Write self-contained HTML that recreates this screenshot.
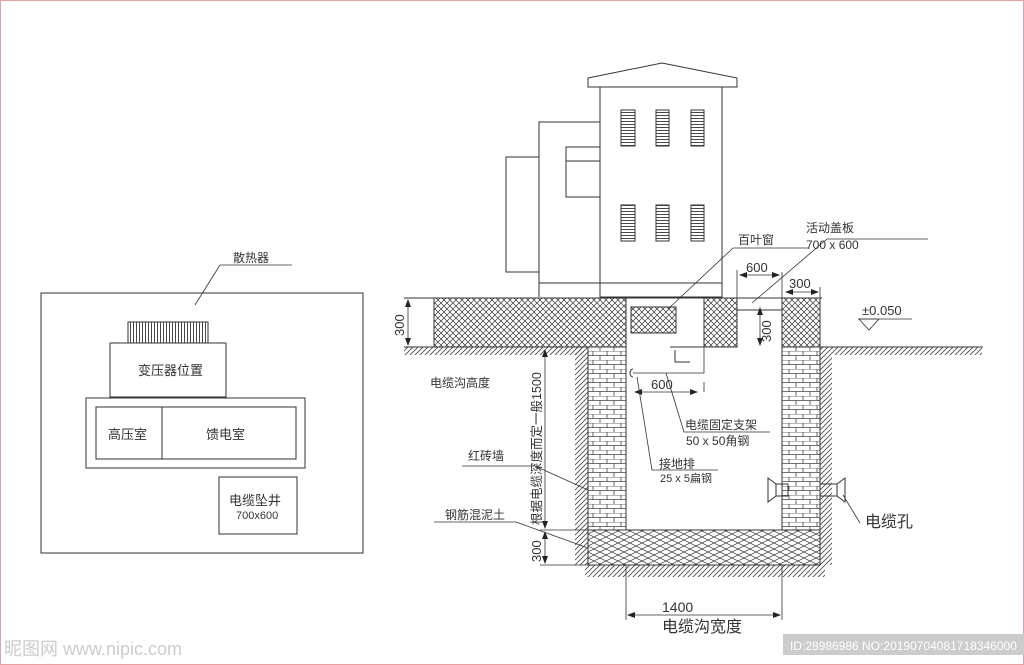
<!DOCTYPE html>
<html><head><meta charset="utf-8"><style>
html,body{margin:0;padding:0;background:#fff}
svg{display:block}
text{font-family:"Liberation Sans","Noto Sans CJK SC",sans-serif;fill:#333}
</style></head><body>
<svg width="1024" height="665" viewBox="0 0 1024 665" xmlns="http://www.w3.org/2000/svg">
<defs>
<pattern id="cross" width="6" height="6" patternUnits="userSpaceOnUse">
<path d="M0 0L6 6M6 0L0 6" stroke="#333" stroke-width="0.7"/>
</pattern>
<pattern id="cross2" width="12" height="6" patternUnits="userSpaceOnUse">
<path d="M0 0L12 6M12 0L0 6" stroke="#333" stroke-width="0.7"/>
</pattern>
<pattern id="brick" width="14" height="9" patternUnits="userSpaceOnUse">
<rect width="14" height="9" fill="#fff"/>
<path d="M0 0H14M0 4.5H14M5 0V4.5M12 4.5V9" stroke="#444" stroke-width="0.8"/>
</pattern>
<pattern id="hatch" width="5" height="5" patternUnits="userSpaceOnUse">
<path d="M0 5L5 0M-1 1L1 -1M4 6L6 4" stroke="#444" stroke-width="0.8"/>
</pattern>
<pattern id="louver" width="14" height="3" patternUnits="userSpaceOnUse">
<path d="M0 1.5H14" stroke="#333" stroke-width="0.9"/>
</pattern>
<pattern id="vlines" width="3" height="10" patternUnits="userSpaceOnUse">
<path d="M1.5 0V10" stroke="#333" stroke-width="0.9"/>
</pattern>
<marker id="ar" markerWidth="8" markerHeight="6" refX="7" refY="3" orient="auto-start-reverse" markerUnits="userSpaceOnUse">
<path d="M0 0L8 3L0 6Z" fill="#222"/>
</marker>
</defs>
<rect x="0.5" y="0.5" width="1023" height="664" fill="none" stroke="#e8a0a0"/>
<g fill="none" stroke="#333" stroke-width="1">
<rect x="41" y="293" width="322" height="260"/>
<rect x="128" y="322" width="80" height="21" fill="url(#vlines)"/>
<rect x="110" y="343" width="116" height="54"/>
<rect x="86" y="398" width="219" height="70"/>
<rect x="96" y="407" width="200" height="52"/>
<line x1="162" y1="407" x2="162" y2="459"/>
<rect x="219" y="477" width="78" height="57"/>
<line x1="220" y1="265" x2="292" y2="265" stroke-width="0.8"/>
<line x1="220" y1="265" x2="195" y2="305" stroke-width="0.8"/>
<path d="M588 78L662 63L737 78V87H588Z"/>
<rect x="600" y="87" width="122" height="210"/>
<path d="M600 122H539V297"/>
<rect x="566" y="147" width="34" height="50"/>
<line x1="566" y1="161" x2="600" y2="161"/>
<rect x="506" y="157" width="33" height="115"/>
<line x1="539" y1="283" x2="722" y2="283"/>
<g fill="url(#louver)">
<rect x="621" y="110" width="14" height="36"/><rect x="656" y="110" width="13" height="36"/><rect x="691" y="110" width="13" height="36"/>
<rect x="621" y="205" width="14" height="36"/><rect x="656" y="205" width="13" height="36"/><rect x="691" y="205" width="13" height="36"/>
</g>
<rect x="575" y="347" width="13" height="183" fill="url(#hatch)" stroke="none"/>
<rect x="820" y="347" width="12" height="183" fill="url(#hatch)" stroke="none"/>
<rect x="575" y="530" width="13" height="35" fill="url(#hatch)" stroke="none"/>
<rect x="820" y="530" width="12" height="35" fill="url(#hatch)" stroke="none"/>
<rect x="585" y="565" width="240" height="12" fill="url(#hatch)" stroke="none"/>
<rect x="404" y="347" width="180" height="8" fill="url(#hatch)" stroke="none"/>
<rect x="832" y="347" width="150" height="8" fill="url(#hatch)" stroke="none"/>
<line x1="404" y1="298" x2="822" y2="298"/>
<rect x="434" y="298" width="192" height="49" fill="url(#cross)"/>
<rect x="631" y="307" width="45" height="26" fill="url(#cross)"/>
<rect x="704" y="298" width="33" height="49" fill="url(#cross)"/>
<rect x="782" y="298" width="38" height="49" fill="url(#cross)"/>
<line x1="404" y1="347" x2="626" y2="347"/>
<line x1="820" y1="347" x2="983" y2="347"/>
<line x1="670" y1="347" x2="704" y2="347"/>
<line x1="737" y1="310" x2="782" y2="310"/>
<rect x="588" y="347" width="38" height="183" fill="url(#brick)"/>
<rect x="782" y="347" width="38" height="183" fill="url(#brick)"/>
<rect x="588" y="530" width="232" height="35" fill="url(#cross2)"/>
<line x1="588" y1="347" x2="588" y2="565"/>
<line x1="820" y1="347" x2="820" y2="565"/>
<path d="M675 350V362H690"/>
<path d="M633 369a3 4 0 0 0 0 8"/>
<line x1="633" y1="373" x2="704" y2="373" stroke-width="0.8"/>
<line x1="704" y1="347" x2="704" y2="373" stroke-width="0.8"/>
<line x1="704" y1="382" x2="704" y2="392" stroke-width="0.8"/>
<path d="M768 478L776 484V496L768 502Z M776 484H788V496H776"/>
<path d="M845 478L837 484V496L845 502Z M837 484H820V496H837"/>
<g stroke-width="0.8">
<line x1="408" y1="300" x2="408" y2="345" marker-start="url(#ar)" marker-end="url(#ar)"/>
<line x1="545" y1="350" x2="545" y2="528" marker-start="url(#ar)" marker-end="url(#ar)"/>
<line x1="545" y1="532" x2="545" y2="563" marker-start="url(#ar)" marker-end="url(#ar)"/>
<line x1="540" y1="530" x2="588" y2="530"/><line x1="540" y1="565" x2="588" y2="565"/>
<line x1="628" y1="615" x2="780" y2="615" marker-start="url(#ar)" marker-end="url(#ar)"/>
<line x1="626" y1="565" x2="626" y2="620"/><line x1="782" y1="565" x2="782" y2="620"/>
<line x1="740" y1="275" x2="779" y2="275" marker-start="url(#ar)" marker-end="url(#ar)"/>
<line x1="737" y1="270" x2="737" y2="298"/><line x1="782" y1="272" x2="782" y2="298"/>
<line x1="786" y1="292" x2="818" y2="292" marker-start="url(#ar)" marker-end="url(#ar)"/>
<line x1="820" y1="287" x2="820" y2="298"/>
<line x1="760" y1="308" x2="760" y2="345" marker-start="url(#ar)" marker-end="url(#ar)"/>
<line x1="635" y1="392" x2="697" y2="392" marker-start="url(#ar)" marker-end="url(#ar)"/>
<path d="M827 239H928M827 239L752 303"/>
<path d="M733 248H808M733 248L668 309"/>
<path d="M666 373L684 432H770"/>
<path d="M637 377L652 470H718"/>
<path d="M462 466H535L588 490"/>
<path d="M434 522H516L588 548"/>
<path d="M843 495L860 523"/>
<path d="M859 319H879L869 330Z"/>
<line x1="858" y1="319" x2="912" y2="319"/>
</g>
</g>
<g font-size="12">
<text x="233" y="262">散热器</text>
<text x="138" y="375" font-size="13">变压器位置</text>
<text x="108" y="439" font-size="13">高压室</text>
<text x="206" y="439" font-size="13">馈电室</text>
<text x="229" y="505" font-size="13">电缆坠井</text>
<text x="236" y="519" font-size="11">700x600</text>
<text x="430" y="387">电缆沟高度</text>
<text x="468" y="460">红砖墙</text>
<text x="445" y="519">钢筋混泥土</text>
<text x="738" y="244">百叶窗</text>
<text x="806" y="232">活动盖板</text>
<text x="806" y="249">700 x 600</text>
<text x="746" y="272" font-size="13">600</text>
<text x="789" y="288" font-size="13">300</text>
<text x="862" y="315" font-size="13">±0.050</text>
<text x="651" y="389" font-size="13">600</text>
<text x="685" y="429">电缆固定支架</text>
<text x="686" y="445">50 x 50角钢</text>
<text x="659" y="468">接地排</text>
<text x="660" y="482" font-size="11">25 x  5扁钢</text>
<text x="865" y="527" font-size="16">电缆孔</text>
<text x="662" y="612" font-size="14">1400</text>
<text x="662" y="632" font-size="16">电缆沟宽度</text>
<text transform="translate(404,336) rotate(-90)" font-size="13">300</text>
<text transform="translate(771,342) rotate(-90)" font-size="13">300</text>
<text transform="translate(541,562) rotate(-90)" font-size="13">300</text>
<text transform="translate(541,525) rotate(-90)" font-size="12.5">根据电缆深度而定一般1500</text>
</g>
<text x="4" y="655" font-size="18" style="fill:#ccc">昵图网 www.nipic.com</text>
<rect x="783" y="634" width="241" height="21" fill="#ccc"/>
<text x="790" y="650" font-size="12" style="fill:#fff">ID:28986986 NO:20190704081718346000</text>
</svg>
</body></html>
